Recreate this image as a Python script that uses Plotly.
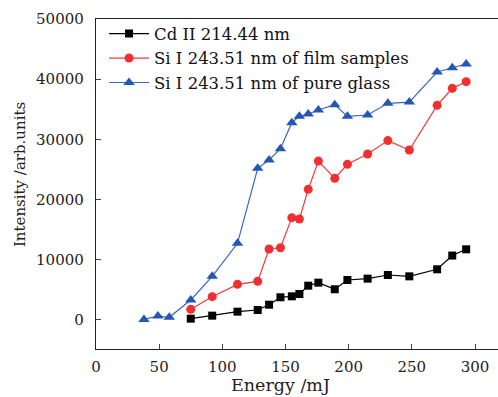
import plotly.graph_objects as go

energy_cd = [75, 92, 112, 128, 137, 146, 155, 161, 168, 176, 189, 199, 215, 231, 248, 270, 282, 293]
cd_intensity = [220, 720, 1380, 1660, 2540, 3770, 3930, 4320, 5700, 6200, 5100, 6640, 6870, 7470, 7250, 8420, 10700, 11740]

energy_film = [75, 92, 112, 128, 137, 146, 155, 161, 168, 176, 189, 199, 215, 231, 248, 270, 282, 293]
si_film = [1770, 3870, 5920, 6420, 11800, 12000, 17000, 16780, 21700, 26400, 23530, 25860, 27570, 29800, 28240, 35660, 38480, 39590]

energy_glass = [38, 49, 58, 75, 92, 112, 128, 137, 146, 155, 161, 168, 176, 189, 199, 215, 231, 248, 270, 282, 293]
si_glass = [100, 660, 450, 3320, 7250, 12740, 25200, 26580, 28460, 32780, 33830, 34220, 34880, 35770, 33830, 34050, 36000, 36200, 41200, 41900, 42520]

names = ["Cd II 214.44 nm", "Si I 243.51 nm of film samples", "Si I 243.51 nm of pure glass"]
x_ticks = [0, 50, 100, 150, 200, 250, 300]
y_ticks = [0, 10000, 20000, 30000, 40000, 50000]

FONT = "DejaVu Serif"
FS = 15

fig = go.Figure()
fig.add_trace(go.Scatter(x=energy_cd, y=cd_intensity, name=names[0], mode="lines+markers",
                         line=dict(color="#000000", width=1.2),
                         marker=dict(symbol="square", size=8, color="#000000")))
fig.add_trace(go.Scatter(x=energy_film, y=si_film, name=names[1], mode="lines+markers",
                         line=dict(color="#f03a3a", width=1.2),
                         marker=dict(symbol="circle", size=9, color="#f03030")))
fig.add_trace(go.Scatter(x=energy_glass, y=si_glass, name=names[2], mode="lines+markers",
                         line=dict(color="#3a66c4", width=1.2),
                         marker=dict(symbol="triangle-up", size=10, color="#2456b4")))

fig.update_layout(
    width=498, height=397,
    margin=dict(l=96, r=0, t=19, b=48, autoexpand=False),
    paper_bgcolor="white", plot_bgcolor="white",
    hovermode=False,
    font=dict(family=FONT, size=FS, color="#222"),
    showlegend=True,
    legend=dict(x=0.02, y=1.008, xanchor="left", yanchor="top",
                bgcolor="rgba(0,0,0,0)", font=dict(family=FONT, size=16.5, color="#111"),
                tracegroupgap=0, itemwidth=40),
    xaxis=dict(range=[0, 318.2], tickvals=x_ticks, ticks="inside", ticklen=5,
               ticklabelstandoff=4,
               showline=True, linecolor="#222", linewidth=1.2, mirror=True, automargin=False,
               showgrid=False, zeroline=False, tickfont=dict(family=FONT, size=FS, color="#222")),
    yaxis=dict(range=[-4820, 50000], tickvals=y_ticks, tickformat="d", ticks="inside", ticklen=5,
               ticklabelstandoff=8,
               showline=True, linecolor="#222", linewidth=1.2, mirror=False, automargin=False,
               showgrid=False, zeroline=False, tickfont=dict(family=FONT, size=FS, color="#222")),
    annotations=[
        dict(text="Energy /mJ", x=145.7, xref="x", y=0, yref="paper", yshift=-36,
             showarrow=False, font=dict(family=FONT, size=17.5, color="#222"),
             xanchor="center", yanchor="middle"),
        dict(text="Intensity /arb.units", x=0, xref="paper", xshift=-76, y=0.527, yref="paper",
             showarrow=False, textangle=-90, font=dict(family=FONT, size=FS, color="#222"),
             xanchor="center", yanchor="middle"),
    ],
)

fig.write_html(
    "out.html",
    config={"displayModeBar": False, "staticPlot": True},
    post_script="document.body.style.margin='0';document.body.style.overflow='hidden';",
)
